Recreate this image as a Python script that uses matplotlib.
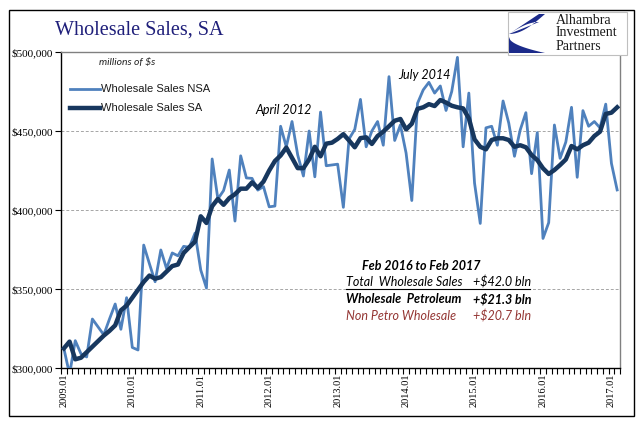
import matplotlib
matplotlib.use('Agg')
import matplotlib.pyplot as plt
import numpy as np
from matplotlib.patches import Rectangle, Polygon

plt.rcParams['text.parse_math'] = False

# Monthly wholesale sales, Jan 2009 .. Feb 2017 (thousands of $ millions)
nsa_k = [312.4, 296.0, 317.3, 309.0, 307.0, 331.0, 326.0, 321.0, 331.0, 340.5, 324.5, 344.5,
         313.0, 311.4, 377.8, 366.0, 354.6, 374.7, 363.0, 372.8, 371.0, 377.0, 376.4, 385.4,
         362.0, 350.6, 432.3, 407.0, 412.3, 425.3, 393.0, 434.3, 420.3, 420.0, 412.6, 414.8,
         402.0, 402.5, 453.0, 440.0, 456.0, 434.8, 421.5, 450.0, 421.0, 462.0, 428.0, 428.5,
         429.0, 401.7, 445.0, 451.0, 470.0, 440.0, 450.0, 456.0, 441.0, 484.4, 444.0, 453.8,
         436.0, 406.0, 467.5, 476.0, 480.8, 474.0, 478.5, 463.0, 475.0, 496.6, 440.0, 474.0,
         417.0, 391.5, 452.0, 453.0, 441.0, 469.0, 455.0, 434.0, 450.6, 461.6, 423.0, 449.0,
         382.0, 392.0, 453.8, 432.7, 443.0, 465.0, 420.7, 462.9, 453.0, 456.0, 452.0, 467.0,
         429.5, 412.7]

sa_k = [312.4, 316.7, 305.5, 306.5, 310.0, 313.5, 317.0, 320.5, 323.5, 327.0, 336.5, 339.5,
        344.5, 349.5, 354.5, 358.5, 356.5, 357.5, 361.0, 364.5, 365.5, 372.8, 376.5, 380.0,
        396.0, 391.8, 402.4, 407.0, 403.3, 407.5, 410.0, 413.5, 413.5, 417.5, 414.0, 418.0,
        425.0, 431.0, 434.5, 439.5, 433.0, 426.5, 426.5, 432.0, 440.0, 434.0, 442.0, 442.6,
        445.0, 448.0, 444.0, 439.7, 445.5, 446.0, 441.8, 446.8, 449.6, 453.0, 456.5, 457.6,
        451.0, 454.6, 464.0, 465.0, 467.0, 465.8, 469.6, 468.0, 466.0, 465.0, 464.3, 458.0,
        444.7, 440.0, 438.4, 444.3, 445.4, 445.4, 444.3, 440.0, 441.0, 439.7, 434.8, 431.6,
        426.4, 422.8, 425.3, 428.5, 432.0, 440.5, 438.4, 441.0, 442.6, 446.8, 449.6, 460.8,
        461.6, 465.0]

year_labels = ['2009.01', '2010.01', '2011.01', '2012.01', '2013.01',
               '2014.01', '2015.01', '2016.01', '2017.01']
y_ticks = [300000, 350000, 400000, 450000, 500000]
y_labels = ['$300,000', '$350,000', '$400,000', '$450,000', '$500,000']

summary_rows = [('Total  Wholesale Sales', '+$42.0 bln'),
                ('Wholesale  Petroleum', '+$21.3 bln'),
                ('Non Petro Wholesale', '+$20.7 bln')]

NSA_COLOR = '#4F81BD'
SA_COLOR = '#17375E'
LOGO_BLUE = '#1B2A8A'
W, H = 641, 421

nsa = np.array(nsa_k) * 1000
sa = np.array(sa_k) * 1000
months = np.arange(len(nsa))

fig = plt.figure(figsize=(W / 100, H / 100), dpi=100)
fig.patch.set_facecolor('white')

# main plot area (pixel box 61..620 x 52..368)
ax = fig.add_axes([61 / W, 1 - 368 / H, (620 - 61) / W, (368 - 52) / H])
ax.plot(months, nsa, color=NSA_COLOR, lw=2.0, zorder=3)
ax.plot(months, sa, color=SA_COLOR, lw=3.2, zorder=4)

ax.set_xlim(-0.5, len(nsa) - 0.5)
ax.set_ylim(300000, 500000)

ax.set_yticks(y_ticks)
ax.set_yticklabels(y_labels, fontfamily='Liberation Serif', fontsize=8)
ax.yaxis.grid(True, color='#A6A6A6', ls=(0, (3, 2)), lw=0.7)
ax.set_axisbelow(True)

# one label per January, one tick per month boundary
ax.set_xticks(months[::12])
ax.set_xticklabels(year_labels, rotation=90, fontfamily='Liberation Serif', fontsize=7.5)
ax.set_xticks(np.arange(-0.5, len(nsa), 1), minor=True)
ax.tick_params(axis='x', which='major', length=0, pad=4)
ax.tick_params(axis='x', which='minor', length=4, width=0.8, direction='out')
ax.tick_params(axis='y', length=4, width=0.8, direction='out', pad=2)

for side in ['left', 'bottom']:
    ax.spines[side].set_color('black')
    ax.spines[side].set_linewidth(1.0)
for side in ['top', 'right']:
    ax.spines[side].set_color('#808080')
    ax.spines[side].set_linewidth(1.0)

# overlay in pixel coordinates for texts, legend, logo and frame
ov = fig.add_axes([0, 0, 1, 1], zorder=10)
ov.set_xlim(0, W)
ov.set_ylim(H, 0)
ov.axis('off')
ov.patch.set_alpha(0)

# outer frame
ov.add_patch(Rectangle((9, 10), 625, 406, fill=False, ec='black', lw=1.0))

# title
ov.text(55, 30, 'Wholesale Sales, SA', fontfamily='Liberation Serif', fontsize=14.5,
        color='#1F1F7A', va='center', ha='left')

# logo: white box, blue swoosh and the firm name
ov.add_patch(Rectangle((508, 12), 119, 43, fc='white', ec='#BFBFBF', lw=0.8))
t = np.linspace(0, 1, 30)
upper = np.vstack([[[545, 14]],
                   np.column_stack([545 - 36 * t, 14 + 20 * np.sin(t * np.pi / 2)]),
                   np.column_stack([509 + 30 * t, 34 - 12 * np.sin(t * np.pi / 2)])[::-1][:-1],
                   [[539, 14]]])
ov.add_patch(Polygon(upper, closed=True, fc=LOGO_BLUE, ec='none'))
curve = np.column_stack([509 + 36 * t, 37 + 16 * np.sqrt(t)])
wedge = np.vstack([[[509, 53]], curve, [[545, 53]]])
ov.add_patch(Polygon(wedge, closed=True, fc=LOGO_BLUE, ec='none'))
for k, word in enumerate(['Alhambra', 'Investment', 'Partners']):
    ov.text(556, 20 + 13 * k, word, fontfamily='Liberation Serif', fontsize=10,
            color='#1A1A1A', va='center', ha='left')

# units note
ov.text(99, 62, 'millions of $s', fontfamily='Lato', style='italic', fontsize=7.5,
        color='#222222', va='center', ha='left')

# legend
ov.plot([70, 100], [89, 89], color=NSA_COLOR, lw=2.0)
ov.text(101, 89, 'Wholesale Sales NSA', fontfamily='Liberation Sans', fontsize=8,
        color='#1A1A1A', va='center', ha='left')
ov.plot([70, 100], [108, 108], color=SA_COLOR, lw=3.2)
ov.text(101, 108, 'Wholesale Sales SA', fontfamily='Liberation Sans', fontsize=8,
        color='#1A1A1A', va='center', ha='left')

# point annotations
ov.text(255, 110, 'April 2012', fontfamily='Lato', style='italic', fontsize=9,
        color='black', va='center', ha='left')
ov.text(398, 75, 'July 2014', fontfamily='Lato', style='italic', fontsize=9,
        color='black', va='center', ha='left')

# summary block
ov.text(362, 266, 'Feb 2016 to Feb 2017', fontfamily='Lato', style='italic',
        fontweight='bold', fontsize=9, color='black', va='center', ha='left')
row_styles = [('normal', 'black'), ('bold', 'black'), ('normal', '#943634')]
for k, (label, value) in enumerate(summary_rows):
    weight, colour = row_styles[k]
    yy = 282 + 17 * k
    ov.text(346, yy, label, fontfamily='Lato', style='italic', fontweight=weight,
            fontsize=9, color=colour, va='center', ha='left')
    ov.text(473, yy, value, fontfamily='Lato', style='italic', fontweight=weight,
            fontsize=9, color=colour, va='center', ha='left')
ov.plot([346, 530], [289, 289], color='black', lw=0.8)

fig.savefig('out.png', dpi=100)
